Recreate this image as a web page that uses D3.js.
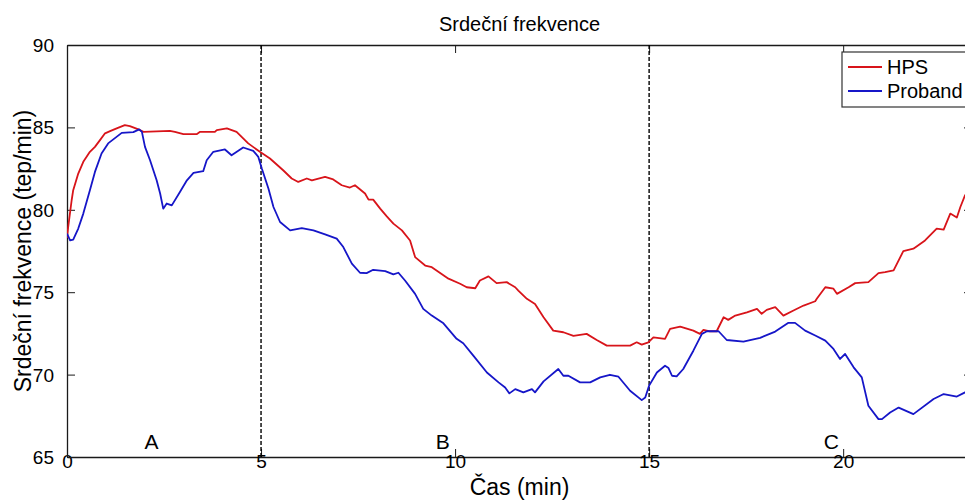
<!DOCTYPE html>
<html>
<head>
<meta charset="utf-8">
<script src="https://cdn.jsdelivr.net/npm/d3@7/dist/d3.min.js"></script>
<style>
  html, body { margin: 0; padding: 0; background: #fff; overflow: hidden; }
  svg { display: block; font-family: "Liberation Sans", Arial, Helvetica, sans-serif; }
</style>
</head>
<body>
<svg id="chart" width="965" height="502"></svg>
<script>
// Heart rate during the test, HPS simulator vs. proband (time in minutes, bpm)
const hpsTime = [0, 0.03, 0.12, 0.16, 0.29, 0.42, 0.59, 0.72, 0.85, 0.98, 1.11, 1.28, 1.49, 1.62, 1.84, 1.97,
  2.65, 2.78, 3.0, 3.34, 3.43, 3.81, 3.86, 4.12, 4.37, 4.5, 4.67, 4.97, 5.23, 5.57, 5.79, 5.96, 6.18, 6.31,
  6.65, 6.86, 7.08, 7.29, 7.42, 7.68, 7.77, 7.89, 8.07, 8.24, 8.41, 8.63, 8.84, 8.97, 9.23, 9.4, 9.83, 10.13,
  10.3, 10.52, 10.64, 10.86, 11.07, 11.33, 11.55, 11.63, 11.85, 12.06, 12.28, 12.53, 12.79, 13.05, 13.39,
  13.65, 13.91, 14.51, 14.68, 14.81, 14.98, 15.11, 15.41, 15.54, 15.8, 16.14, 16.31, 16.4, 16.57, 16.74,
  16.92, 17.04, 17.22, 17.52, 17.78, 17.9, 18.03, 18.25, 18.46, 18.72, 18.98, 19.28, 19.32, 19.54, 19.75,
  19.84, 20.14, 20.31, 20.65, 20.91, 21.08, 21.3, 21.55, 21.81, 22.11, 22.41, 22.59, 22.76, 22.93, 23.02,
  23.14, 23.3];
const hpsRate = [78.3, 78.95, 80.58, 81.19, 82.2, 82.91, 83.52, 83.82, 84.23, 84.64, 84.77, 84.94, 85.14, 85.08, 84.88, 84.73,
  84.79, 84.73, 84.59, 84.59, 84.73, 84.73, 84.84, 84.94, 84.73, 84.43, 84.03, 83.52, 83.11, 82.4, 81.9, 81.69, 81.9, 81.79,
  82.0, 81.84, 81.49, 81.35, 81.49, 80.99, 80.62, 80.62, 80.07, 79.6, 79.16, 78.75, 78.14, 77.13, 76.62, 76.52, 75.82, 75.51,
  75.3, 75.24, 75.71, 75.96, 75.55, 75.61, 75.3, 75.1, 74.6, 74.29, 73.48, 72.67, 72.57, 72.35, 72.47,
  72.1, 71.76, 71.76, 71.96, 71.82, 71.96, 72.26, 72.17, 72.77, 72.91, 72.67, 72.47, 72.71, 72.63, 72.63,
  73.48, 73.32, 73.58, 73.78, 73.99, 73.69, 73.93, 74.09, 73.58, 73.89, 74.19, 74.45, 74.6, 75.3, 75.21,
  74.9, 75.3, 75.55, 75.61, 76.16, 76.22, 76.32, 77.49, 77.64, 78.14, 78.86, 78.8, 79.77, 79.53, 80.17,
  80.88, 81.3];

const probandTime = [0, 0.08, 0.16, 0.29, 0.42, 0.59, 0.72, 0.89, 1.06, 1.41, 1.71, 1.86, 1.93, 2.01, 2.14, 2.31,
  2.4, 2.48, 2.57, 2.7, 2.91, 3.09, 3.26, 3.51, 3.6, 3.77, 4.07, 4.24, 4.54, 4.8, 4.93, 5.02, 5.19, 5.32, 5.49,
  5.75, 6.05, 6.35, 6.65, 6.95, 7.12, 7.34, 7.55, 7.72, 7.89, 8.2, 8.41, 8.54, 8.71, 8.97, 9.18, 9.4, 9.7,
  10.04, 10.21, 10.47, 10.82, 11.12, 11.29, 11.4, 11.55, 11.76, 11.98, 12.06, 12.28, 12.66, 12.79, 12.92,
  13.22, 13.48, 13.74, 13.99, 14.21, 14.51, 14.81, 14.9, 15.0, 15.2, 15.41, 15.5, 15.59, 15.71, 15.88, 16.14,
  16.36, 16.49, 16.79, 17.0, 17.43, 17.86, 18.25, 18.59, 18.76, 19.02, 19.28, 19.54, 19.75, 19.92, 20.05,
  20.27, 20.48, 20.65, 20.91, 21.0, 21.21, 21.43, 21.81, 22.33, 22.59, 22.93, 23.14, 23.3];
const probandRate = [78.55, 78.14, 78.19, 78.86, 79.77, 81.19, 82.3, 83.42, 84.03, 84.67, 84.71, 84.88, 84.73, 83.82, 83.01, 81.79,
  80.99, 80.07, 80.38, 80.27, 81.08, 81.79, 82.24, 82.34, 83.01, 83.52, 83.66, 83.31, 83.78, 83.58, 83.21, 82.51, 81.29, 80.17, 79.26,
  78.75, 78.89, 78.75, 78.51, 78.25, 77.74, 76.73, 76.18, 76.16, 76.36, 76.28, 76.08, 76.18, 75.71, 74.9, 73.99, 73.58, 73.11,
  72.17, 71.9, 71.15, 70.13, 69.53, 69.22, 68.86, 69.12, 68.92, 69.12, 68.92, 69.59, 70.34, 69.93, 69.93,
  69.53, 69.53, 69.83, 69.99, 69.87, 69.02, 68.45, 68.61, 69.33, 70.13, 70.54, 70.4, 69.93, 69.89, 70.34, 71.45,
  72.47, 72.63, 72.63, 72.1, 72.0, 72.23, 72.61, 73.14, 73.14, 72.67, 72.37, 72.06, 71.56, 70.95, 71.25,
  70.44, 69.83, 68.11, 67.3, 67.3, 67.7, 68.0, 67.6, 68.52, 68.82, 68.67, 68.92, 69.0];

const seriesNames = ["HPS", "Proband"];
const seriesColors = ["#d8141a", "#1616c8"];

const xTicks = [0, 5, 10, 15, 20];
const yTicks = [65, 70, 75, 80, 85, 90];
const phaseBounds = [5, 15];
const phaseNames = ["A", "B", "C"];
const phaseLabelTime = [2, 9.5, 19.5];
const phaseLabelRate = 65.5;

const titleText = "Srdeční frekvence";
const xLabelText = "Čas (min)";
const yLabelText = "Srdeční frekvence (tep/min)";

// Layout
const plotLeft = 67, plotRight = 972, plotTop = 45, plotBottom = 457;
const svg = d3.select("#chart");

const x = d3.scaleLinear().domain([0, 23.32]).range([plotLeft, plotRight]);
const y = d3.scaleLinear().domain([65, 90]).range([plotBottom, plotTop]);

svg.append("defs").append("clipPath").attr("id", "plotClip")
  .append("rect").attr("x", plotLeft).attr("y", plotTop)
  .attr("width", plotRight - plotLeft).attr("height", plotBottom - plotTop);

// Axes: MATLAB-style box with inward ticks
const axisColor = "#1a1a1a";
const tickLen = 8;
const fontTick = 19;

const bottomAxis = d3.axisBottom(x).tickValues(xTicks).tickSizeInner(-tickLen).tickSizeOuter(0).tickPadding(tickLen + 3);
const topAxis = d3.axisTop(x).tickValues(xTicks).tickSizeInner(-tickLen).tickSizeOuter(0).tickFormat("");
const leftAxis = d3.axisLeft(y).tickValues(yTicks).tickSizeInner(-tickLen).tickSizeOuter(0).tickPadding(tickLen + 5);
const rightAxis = d3.axisRight(y).tickValues(yTicks).tickSizeInner(-tickLen).tickSizeOuter(0).tickFormat("");

function styleAxis(g) {
  g.selectAll("path.domain").attr("stroke", axisColor).attr("stroke-width", 1.3);
  g.selectAll(".tick line").attr("stroke", axisColor).attr("stroke-width", 1);
  g.selectAll(".tick text").attr("fill", "#000").style("font-size", fontTick + "px")
    .style("font-family", "'Liberation Sans', Arial, sans-serif");
}

svg.append("g").attr("transform", `translate(0,${plotBottom})`).call(bottomAxis).call(styleAxis);
svg.append("g").attr("transform", `translate(0,${plotTop})`).call(topAxis).call(styleAxis);
svg.append("g").attr("transform", `translate(${plotLeft},0)`).call(leftAxis).call(styleAxis);
svg.append("g").attr("transform", `translate(${plotRight},0)`).call(rightAxis).call(styleAxis);

// the 0 / 65 corner labels sit where MATLAB puts them
svg.selectAll("g .tick text").attr("dy", null);
svg.selectAll("g .tick text").each(function() {
  const t = d3.select(this);
  if (t.attr("x") !== null && +t.attr("x") < 0) t.attr("dominant-baseline", "central");
});

// Phase boundaries
svg.append("g").selectAll("line").data(phaseBounds).join("line")
  .attr("x1", d => x(d)).attr("x2", d => x(d))
  .attr("y1", plotTop).attr("y2", plotBottom)
  .attr("stroke", "#000").attr("stroke-width", 1.4)
  .attr("stroke-dasharray", "4,2");

// Phase labels
svg.append("g").selectAll("text").data(phaseNames).join("text")
  .attr("x", (d, i) => x(phaseLabelTime[i]))
  .attr("y", y(phaseLabelRate))
  .attr("font-size", 21).attr("fill", "#000")
  .text(d => d);

// Series lines
const series = [
  { name: seriesNames[0], color: seriesColors[0], t: hpsTime, v: hpsRate },
  { name: seriesNames[1], color: seriesColors[1], t: probandTime, v: probandRate }
];
const line = d3.line().x(d => x(d[0])).y(d => y(d[1]));
const linesG = svg.append("g").attr("clip-path", "url(#plotClip)");
series.forEach(s => {
  linesG.append("path")
    .datum(s.t.map((t, i) => [t, s.v[i]]))
    .attr("fill", "none").attr("stroke", s.color)
    .attr("stroke-width", 1.8).attr("stroke-linejoin", "round")
    .attr("d", line);
});

// Title and axis labels
svg.append("text").attr("x", (plotLeft + plotRight) / 2).attr("y", 31)
  .attr("text-anchor", "middle").attr("font-size", 20).attr("fill", "#000").text(titleText);
svg.append("text").attr("x", (plotLeft + plotRight) / 2).attr("y", 495)
  .attr("text-anchor", "middle").attr("font-size", 23).attr("fill", "#000").text(xLabelText);
svg.append("text")
  .attr("transform", `translate(31,${(plotTop + plotBottom) / 2}) rotate(-90)`)
  .attr("text-anchor", "middle").attr("font-size", 23).attr("fill", "#000").text(yLabelText);

// Legend
const legend = svg.append("g").attr("transform", "translate(842,52)");
legend.append("rect").attr("width", 128).attr("height", 55)
  .attr("fill", "#fff").attr("stroke", "#333").attr("stroke-width", 1.2);
series.forEach((s, i) => {
  const ly = 15 + i * 24;
  legend.append("line").attr("x1", 6).attr("x2", 40).attr("y1", ly).attr("y2", ly)
    .attr("stroke", s.color).attr("stroke-width", 1.8);
  legend.append("text").attr("x", 45).attr("y", ly + 7)
    .attr("font-size", 20).attr("fill", "#000").text(s.name);
});
</script>
</body>
</html>
